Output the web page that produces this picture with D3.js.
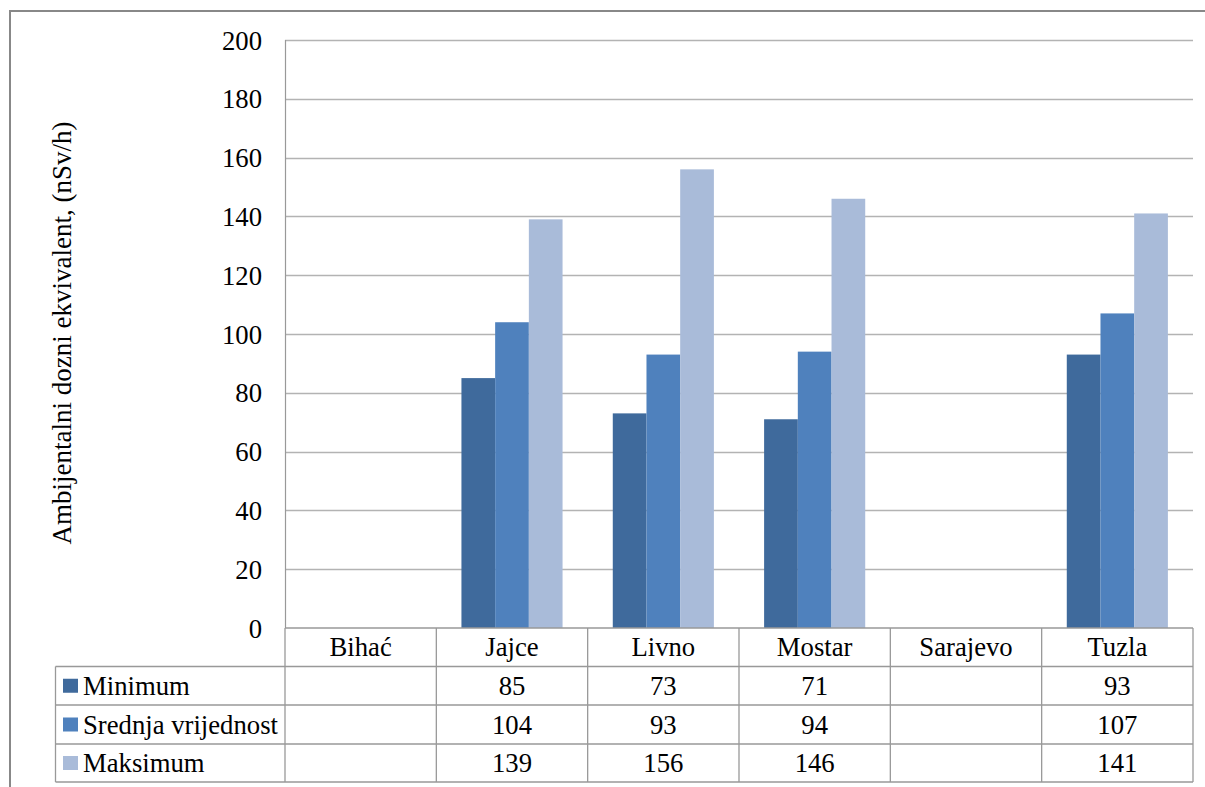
<!DOCTYPE html>
<html><head><meta charset="utf-8">
<script src="https://cdn.jsdelivr.net/npm/d3@7"></script>
<style>body{margin:0;background:#fff}svg{display:block}
svg text{font-family:"Liberation Serif","Times New Roman","DejaVu Serif",serif !important;}</style>
</head><body>
<svg id="c" width="1205" height="787"></svg>
<script>
const categories = ["Bihać","Jajce","Livno","Mostar","Sarajevo","Tuzla"];
const seriesNames = ["Minimum","Srednja vrijednost","Maksimum"];
const minimum = [null,85,73,71,null,93];
const srednja = [null,104,93,94,null,107];
const maksimum = [null,139,156,146,null,141];
const yTicks = [0,20,40,60,80,100,120,140,160,180,200];
const colors = ["#3F6A9C","#4F81BD","#A9BBD9"];
const yLabel = "Ambijentalni dozni ekvivalent, (nSv/h)";

const series = [minimum, srednja, maksimum];
const svg = d3.select("#c");
const FS = "26.7px";
const L = 285, R = 1193, T = 40, B = 628;
const rowY = [628, 666.5, 705, 744, 782];
const tableLeft = 55.5;

// outer frame
svg.append("rect").attr("x",10).attr("y",11).attr("width",1205).attr("height",800)
  .attr("fill","none").attr("stroke","#888").attr("stroke-width",2);

const x = d3.scaleBand().domain(categories).range([L,R]).paddingInner(0).paddingOuter(0);
const y = d3.scaleLinear().domain([0,200]).range([B,T]);
const xs = d3.scaleBand().domain(seriesNames).range([0,x.bandwidth()]).paddingInner(0).paddingOuter(0.745);

// gridlines
svg.append("g").selectAll("line").data(yTicks.filter(d=>d>0)).join("line")
  .attr("x1",L).attr("x2",R).attr("y1",d=>Math.round(y(d))+0.5).attr("y2",d=>Math.round(y(d))+0.5)
  .attr("stroke","#b3b3b3").attr("stroke-width",1.5);

// y axis
const yAxis = d3.axisLeft(y).tickValues(yTicks).tickSize(0).tickPadding(23);
const gy = svg.append("g").attr("transform",`translate(${L},0)`).call(yAxis);
gy.select(".domain").remove();
gy.selectAll("text").attr("font-size",FS).attr("fill","#000").attr("dy","0.34em");
svg.append("line").attr("x1",L+0.5).attr("x2",L+0.5).attr("y1",T).attr("y2",B)
  .attr("stroke","#999").attr("stroke-width",1.2);

// bars
series.forEach((s,si)=>{
  svg.append("g").selectAll("rect").data(categories.map((c,i)=>({c,v:s[i]})).filter(d=>d.v!=null))
    .join("rect")
    .attr("x",d=>x(d.c)+xs(seriesNames[si]))
    .attr("width",xs.bandwidth())
    .attr("y",d=>y(d.v)).attr("height",d=>B-y(d.v))
    .attr("fill",colors[si]);
});

// y label
svg.append("text").attr("transform",`translate(71,333) rotate(-90)`)
  .attr("text-anchor","middle").attr("font-size","27px").text(yLabel);

// data table
const tg = svg.append("g");
const gridStroke = "#999";
rowY.forEach((yy,i)=>{
  tg.append("line").attr("x1", i===0 ? L : tableLeft).attr("x2",R)
    .attr("y1",yy).attr("y2",yy).attr("stroke",gridStroke).attr("stroke-width",1.3);
});
const colXs = categories.map(c=>x(c)).concat([R]);
colXs.forEach(cx=>{
  tg.append("line").attr("x1",cx).attr("x2",cx).attr("y1",rowY[0]).attr("y2",rowY[4])
    .attr("stroke",gridStroke).attr("stroke-width",1.3);
});
tg.append("line").attr("x1",tableLeft).attr("x2",tableLeft).attr("y1",rowY[1]).attr("y2",rowY[4])
  .attr("stroke",gridStroke).attr("stroke-width",1.3);

tg.selectAll("text.h").data(categories).join("text").attr("class","h")
  .attr("x",d=>x(d)+x.bandwidth()/2).attr("y",(rowY[0]+rowY[1])/2+9)
  .attr("text-anchor","middle").attr("font-size",FS).text(d=>d);

series.forEach((s,si)=>{
  const cy = (rowY[si+1]+rowY[si+2])/2;
  tg.append("rect").attr("x",63).attr("y",cy-7).attr("width",15).attr("height",14).attr("fill",colors[si]);
  tg.append("text").attr("x",83).attr("y",cy+9).attr("font-size",FS).text(seriesNames[si]);
  tg.selectAll(null).data(categories.map((c,i)=>({c,v:s[i]})).filter(d=>d.v!=null)).join("text")
    .attr("x",d=>x(d.c)+x.bandwidth()/2).attr("y",cy+9)
    .attr("text-anchor","middle").attr("font-size",FS).text(d=>d.v);
});
</script>
</body></html>
